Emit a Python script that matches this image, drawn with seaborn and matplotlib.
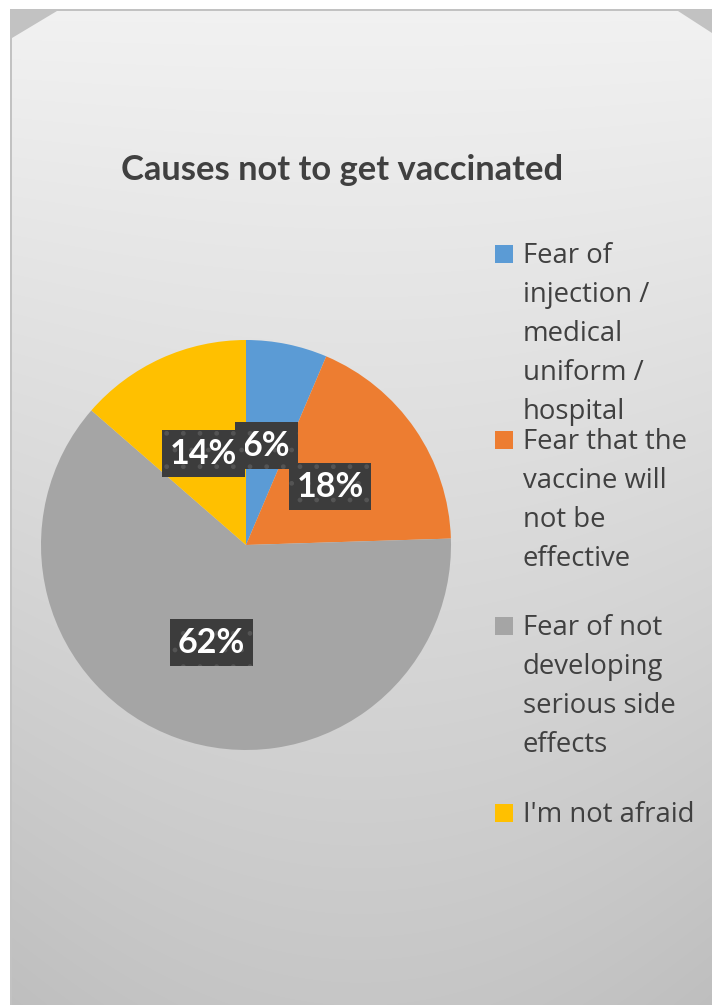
import numpy as np
import matplotlib
matplotlib.use("Agg")
import matplotlib.pyplot as plt
import seaborn as sns
from matplotlib.patches import Polygon, Rectangle

# ---------------- data ----------------
title = "Causes not to get vaccinated"
categories = [
    "Fear of injection / medical uniform / hospital",
    "Fear that the vaccine will not be effective",
    "Fear of not developing serious side effects",
    "I'm not afraid",
]
legend_lines = [
    ["Fear of", "injection /", "medical", "uniform /", "hospital"],
    ["Fear that the", "vaccine will", "not be", "effective"],
    ["Fear of not", "developing", "serious side", "effects"],
    ["I'm not afraid"],
]
shares = [6.4, 18.1, 61.9, 13.6]
colors = ["#5B9BD5", "#ED7D31", "#A5A5A5", "#FFC000"]

# ---------------- layout ----------------
W, H = 712, 1005
pie_cx, pie_cy, pie_r = 246, 545, 205
label_pos = [(0.100, 0.485), (0.410, 0.283), (-0.168, -0.476), (-0.207, 0.446)]
legend_first_baseline = [263, 449, 635, 821.5]
legend_step = 38.9
legend_text_x = 523
legend_sq_x, legend_sq = 495, 18
text_color = "#404040"

sns.set_theme(style="white")
plt.rcParams["font.family"] = ["Lato", "DejaVu Sans"]

fig = plt.figure(figsize=(W / 100, H / 100), dpi=100)
fig.patch.set_facecolor("white")


def fx(x):
    return x / W


def fy(y):
    return 1 - y / H


# background panel
bg = fig.add_axes([0, 0, 1, 1])
bg.set_xlim(0, W)
bg.set_ylim(H, 0)
bg.axis("off")
bg.add_patch(Rectangle((10, 9), W - 10, H - 9, facecolor="#c2c2c2", edgecolor="none"))
yy, xx = np.mgrid[0:H, 0:W].astype(float)
t = yy / H
grad = 242 - 44 * t - 8 * ((xx - 360) / 360) ** 2 * t
grad = np.clip(grad, 0, 255) / 255.0
img = bg.imshow(np.dstack([grad, grad, grad]), extent=(0, W, H, 0), zorder=1, interpolation="bilinear")
panel = Polygon([(12, 38), (57, 11), (678, 11), (712, 33), (712, H), (12, H)],
                closed=True, facecolor="none", edgecolor="none", transform=bg.transData)
bg.add_patch(panel)
img.set_clip_path(panel)
bg.set_xlim(0, W)
bg.set_ylim(H, 0)

# title
fig.text(fx(342), fy(180.5), title, ha="center", va="baseline", fontsize=24.8,
         fontweight="bold", color=text_color)

# pie
ax = fig.add_axes([fx(pie_cx - pie_r), fy(pie_cy + pie_r), 2 * pie_r / W, 2 * pie_r / H])
wedges, _, autotexts = ax.pie(
    shares, colors=colors, startangle=90, counterclock=False, radius=1,
    autopct=lambda p: f"{p:.0f}%", wedgeprops=dict(linewidth=0),
)
ax.set_xlim(-1, 1)
ax.set_ylim(-1, 1)
ax.axis("off")
for txt, pos in zip(autotexts, label_pos):
    txt.set_position(pos)
    txt.set_ha("center")
    txt.set_va("center")
    txt.set_color("white")
    txt.set_fontweight("bold")
    txt.set_fontsize(24.5)
    txt.set_zorder(5)
    txt.set_bbox(dict(boxstyle="square,pad=0.22", facecolor="#3c3c3c",
                      edgecolor="#545454", linewidth=0, hatch="."))

# legend
for lines, col, b0 in zip(legend_lines, colors, legend_first_baseline):
    bg.add_patch(Rectangle((legend_sq_x, b0 - legend_sq), legend_sq, legend_sq,
                           facecolor=col, edgecolor="none", zorder=3))
    for i, line in enumerate(lines):
        fig.text(fx(legend_text_x), fy(b0 + i * legend_step), line, ha="left",
                 va="baseline", fontsize=19.8, color=text_color,
                 family=["Open Sans", "DejaVu Sans"])

fig.savefig("out.png", dpi=100)
